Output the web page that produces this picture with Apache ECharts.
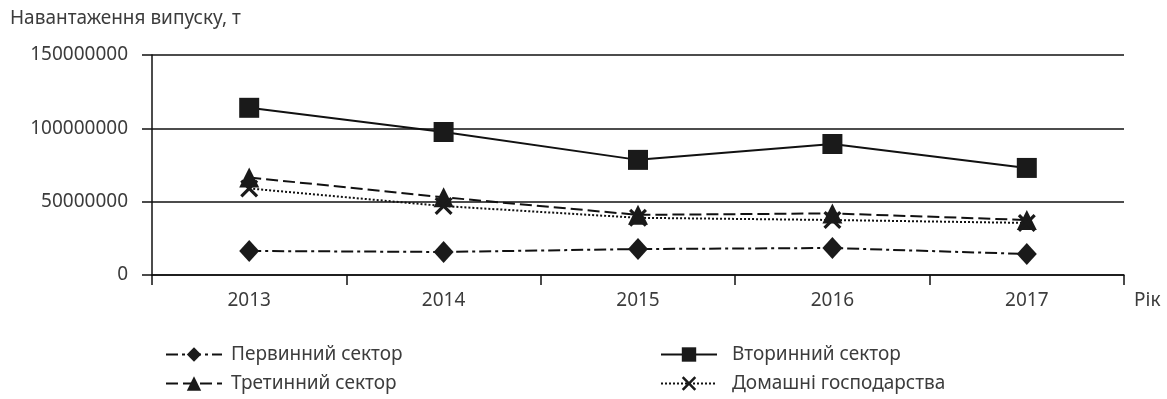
<!DOCTYPE html>
<html><head><meta charset="utf-8">
<script src="https://cdn.jsdelivr.net/npm/echarts@6/dist/echarts.min.js"></script>
<style>html,body{margin:0;padding:0;background:#fff}#c{width:1167px;height:399px}</style>
</head><body><div id="c"></div>
<script>
var years = ['2013','2014','2015','2016','2017'];
var primary = [16400000, 15700000, 17700000, 18400000, 14300000];
var secondary = [114000000, 97500000, 78500000, 89300000, 73000000];
var tertiary = [66500000, 53000000, 41000000, 42000000, 37500000];
var households = [59000000, 47000000, 39000000, 37500000, 35500000];
var yTicks = [0, 50000000, 100000000, 150000000];

var FONT = 'Noto Sans';
var TXT = '#3c3c3c';
var FS = 19;
var crossPath = 'path://M0,2.5 L2.5,0 L10,7.5 L17.5,0 L20,2.5 L12.5,10 L20,17.5 L17.5,20 L10,12.5 L2.5,20 L0,17.5 L7.5,10 Z';

function mk(name, data, symbol, size, dash) {
  return {
    name: name, type: 'line', data: data, symbol: symbol, symbolSize: size,
    lineStyle: {color: '#111', width: 2, type: dash},
    itemStyle: {color: '#1a1a1a', borderWidth: 0},
    emphasis: {disabled: true}, animation: false, z: 3
  };
}

var chart = echarts.init(document.getElementById('c'), null, {renderer: 'canvas'});
chart.setOption({
  animation: false,
  textStyle: {fontFamily: FONT},
  grid: {left: 152, right: 43, top: 55, bottom: 124, containLabel: false},
  xAxis: {
    type: 'category', data: years, boundaryGap: true,
    name: 'Рік', nameLocation: 'end', nameGap: 10,
    nameTextStyle: {color: TXT, fontSize: FS, fontFamily: FONT, verticalAlign: 'top', padding: [16, 0, 0, 0]},
    axisLine: {lineStyle: {color: '#111', width: 1.5}},
    axisTick: {show: true, alignWithLabel: false, length: 10, lineStyle: {color: '#111', width: 1.5}},
    axisLabel: {color: TXT, fontSize: FS, fontFamily: FONT, margin: 16},
    splitLine: {show: false}
  },
  yAxis: {
    type: 'value', min: 0, max: 150000000, interval: 50000000,
    name: 'Навантаження випуску, т', nameLocation: 'end', nameGap: 27,
    nameTextStyle: {color: TXT, fontSize: FS, fontFamily: FONT, align: 'left', padding: [0, 0, 0, -142]},
    axisLine: {show: true, lineStyle: {color: '#111', width: 1.5}},
    axisTick: {show: true, length: 10, lineStyle: {color: '#111', width: 1.5}},
    axisLabel: {color: TXT, fontSize: FS, fontFamily: FONT, margin: 24,
      formatter: function (v) { return yTicks.indexOf(v) >= 0 ? String(v) : ''; }},
    splitLine: {show: true, lineStyle: {color: '#111', width: 1.5}}
  },
  legend: [{
    orient: 'vertical', left: 160, top: 340, itemGap: 10, itemWidth: 56, itemHeight: 18,
    textStyle: {color: TXT, fontSize: FS, fontFamily: FONT, padding: [0, 0, 0, 4]},
    data: ['Первинний сектор', 'Третинний сектор'], selectedMode: false
  }, {
    orient: 'vertical', left: 655, top: 340, itemGap: 10, itemWidth: 56, itemHeight: 18,
    textStyle: {color: TXT, fontSize: FS, fontFamily: FONT, padding: [0, 0, 0, 10]},
    data: ['Вторинний сектор', 'Домашні господарства'], selectedMode: false
  }],
  series: [
    mk('Первинний сектор', primary, 'diamond', [20, 22], [12, 4, 3, 4]),
    mk('Вторинний сектор', secondary, 'rect', 20, 'solid'),
    mk('Третинний сектор', tertiary, 'triangle', [20, 20], [12, 5]),
    mk('Домашні господарства', households, crossPath, 18, [2, 2])
  ]
});
</script></body></html>
